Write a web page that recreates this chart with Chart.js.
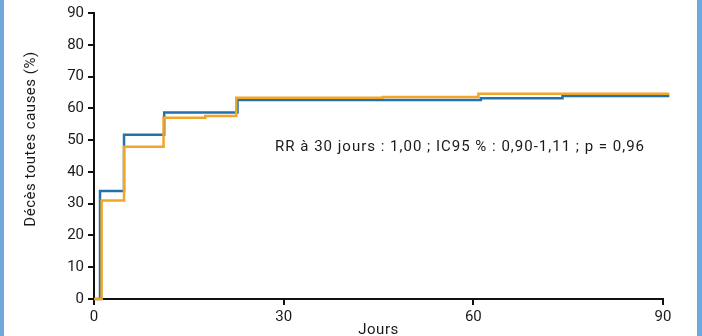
<!DOCTYPE html>
<html>
<head>
<meta charset="utf-8">
<script src="https://cdn.jsdelivr.net/npm/chart.js@4/dist/chart.umd.min.js"></script>
<style>
  html, body { margin: 0; padding: 0; background: #fff; }
  .frame {
    width: 693px; height: 336px;
    border-left: 4px solid #6fa8dc;
    border-right: 5px solid #6fa8dc;
    background: #fff;
  }
  canvas { display: block; }
</style>
</head>
<body>
<div class="frame">
  <canvas id="deathChart" width="693" height="336"></canvas>
</div>
<script>
// Courbes de mortalité toutes causes (%) selon les jours
var xTicks = [0, 30, 60, 90];
var yTicks = [0, 10, 20, 30, 40, 50, 60, 70, 80, 90];

var blueDays   = [0, 0.95, 4.75, 11.1, 22.7, 61.2, 74.1, 91];
var blueDeaths = [0, 34.0, 51.7, 58.7, 62.6, 63.2, 63.9, 63.9];

var orangeDays   = [0, 1.2, 4.75, 11.0, 17.6, 22.5, 45.7, 60.8, 91];
var orangeDeaths = [0, 31.0, 47.9, 57.0, 57.6, 63.3, 63.6, 64.6, 64.6];

var statText = 'RR à 30 jours : 1,00 ; IC95 % : 0,90-1,11 ; p = 0,96';
var yTitle = 'Décès toutes causes (%)';
var xTitle = 'Jours';

var fontFamily = 'Roboto, "DejaVu Sans", sans-serif';

function toPoints(xs, ys) {
    var pts = [];
    for (var i = 0; i < xs.length; i++) {
        pts.push({x: xs[i], y: ys[i]});
    }
    return pts;
}

// texte libre : titre y, titre x et résultat statistique
var textPlugin = {
    id: 'texts',
    afterDraw: function(chart) {
        var ctx = chart.ctx;
        var xs = chart.scales.x;
        var ys = chart.scales.y;
        ctx.save();
        ctx.fillStyle = '#1a1a1a';
        ctx.font = '15px ' + fontFamily;
        ctx.textAlign = 'center';
        ctx.textBaseline = 'middle';
        ctx.letterSpacing = '1px';
        ctx.fillText(statText, xs.getPixelForValue(57.9), ys.getPixelForValue(47.8));
        ctx.letterSpacing = '0.5px';
        ctx.fillText(xTitle, (chart.chartArea.left + chart.chartArea.right) / 2, 330);
        ctx.translate(27, 139);
        ctx.rotate(-Math.PI / 2);
        ctx.fillText(yTitle, 0, 0);
        ctx.restore();
    }
};

var ctx = document.getElementById('deathChart').getContext('2d');
var deathChart = new Chart(ctx, {
    type: 'line',
    data: {
        datasets: [
            {
                label: 'orange',
                data: toPoints(orangeDays, orangeDeaths),
                borderColor: '#f2a526',
                borderWidth: 2.5,
                stepped: 'before',
                pointRadius: 0,
                fill: false,
                clip: false,
                order: 0
            },
            {
                label: 'bleu',
                data: toPoints(blueDays, blueDeaths),
                borderColor: '#2272ad',
                borderWidth: 2.5,
                stepped: 'before',
                pointRadius: 0,
                fill: false,
                clip: false,
                order: 1
            }
        ]
    },
    options: {
        responsive: false,
        animation: false,
        layout: {
            padding: {top: 6, right: 34, left: 0, bottom: 0}
        },
        plugins: {
            legend: {display: false},
            tooltip: {enabled: false}
        },
        scales: {
            x: {
                type: 'linear',
                min: 0,
                max: 90,
                afterFit: function(scale) { scale.height = 37; },
                afterBuildTicks: function(scale) {
                    scale.ticks = xTicks.map(function(v) { return {value: v}; });
                },
                border: {color: '#111', width: 2},
                grid: {drawOnChartArea: false, drawTicks: true, tickLength: 6, color: '#111', lineWidth: 2},
                ticks: {color: '#1a1a1a', padding: 3, maxRotation: 0, font: {size: 15, family: fontFamily}}
            },
            y: {
                min: 0,
                max: 90,
                afterFit: function(scale) { scale.width = 90; },
                afterBuildTicks: function(scale) {
                    scale.ticks = yTicks.map(function(v) { return {value: v}; });
                },
                border: {color: '#111', width: 2},
                grid: {drawOnChartArea: false, drawTicks: true, tickLength: 6, color: '#111', lineWidth: 2},
                ticks: {color: '#1a1a1a', padding: 4, font: {size: 15, family: fontFamily}}
            }
        }
    },
    plugins: [textPlugin]
});
</script>
</body>
</html>
